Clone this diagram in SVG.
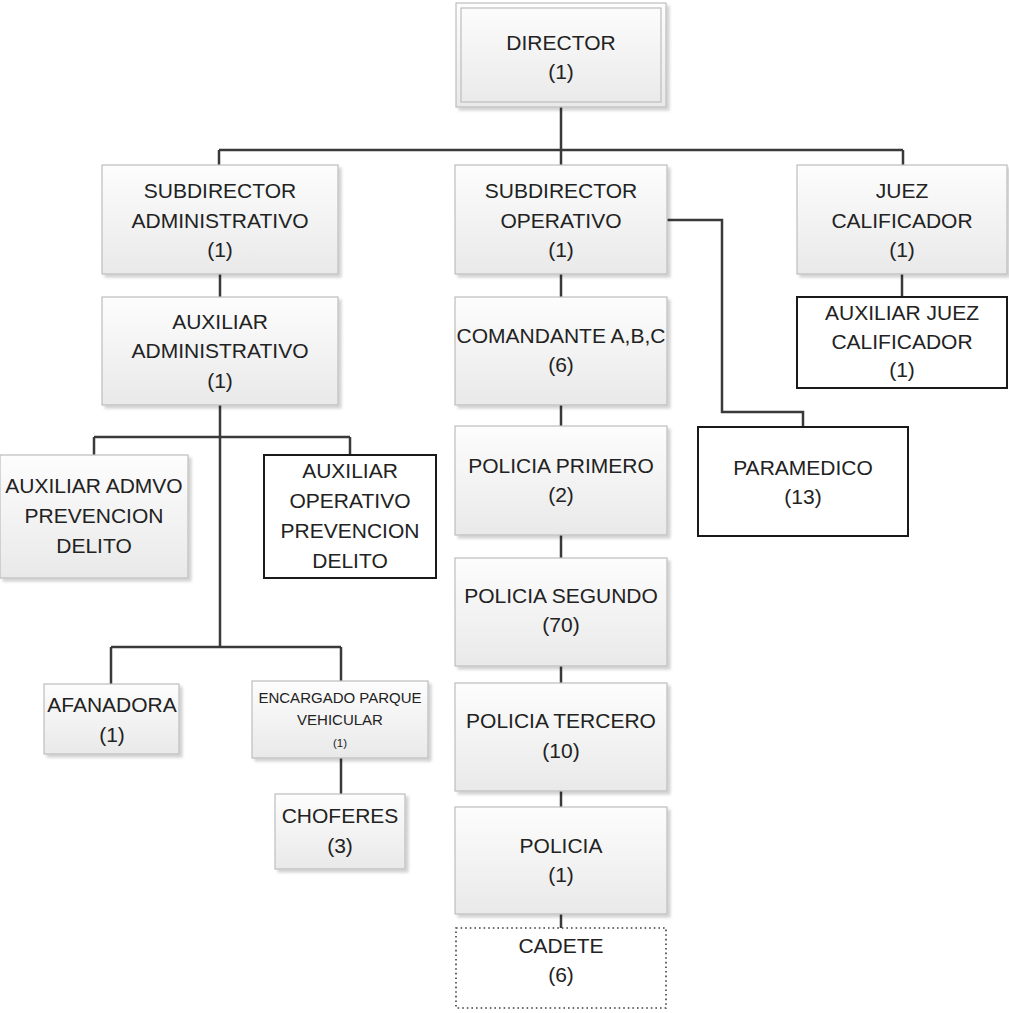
<svg xmlns="http://www.w3.org/2000/svg" width="1009" height="1013" viewBox="0 0 1009 1013">
<defs>
<linearGradient id="g" x1="0" y1="0" x2="0" y2="1">
<stop offset="0" stop-color="#fdfdfd"/>
<stop offset="1" stop-color="#e9e9e9"/>
</linearGradient>
<filter id="sh" x="-5%" y="-5%" width="115%" height="120%">
<feGaussianBlur in="SourceAlpha" stdDeviation="1.5"/>
<feOffset dx="3" dy="3" result="b"/>
<feComponentTransfer><feFuncA type="linear" slope="0.18"/></feComponentTransfer>
<feMerge><feMergeNode/><feMergeNode in="SourceGraphic"/></feMerge>
</filter>
</defs>
<style>
.box{fill:url(#g);stroke:#bdbdbd;stroke-width:1.2;filter:url(#sh)}
.blk{fill:#fff;stroke:#1a1a1a;stroke-width:2}
.dot{fill:#fff;stroke:#404040;stroke-width:1.6;stroke-dasharray:1.6 3}
.t{font-family:"Liberation Sans",Arial,sans-serif;font-size:21px;fill:#222;text-anchor:middle}
.s{font-size:15px}
.xs{font-size:11.5px}
.c{fill:none;stroke:#3a3a3a;stroke-width:2.5}
</style>
<g id="connectors">
<path class="c" d="M561,107V165M219,150H903M219,150V165M903,150V165"/>
<path class="c" d="M220,274V297M220,405V647M94,437H350M94,437V455M350,437V455"/>
<path class="c" d="M111,647H341M111,647V684M341,647V681M341,757V794"/>
<path class="c" d="M561,274V297M561,405V426M561,535V558M561,666V683M561,791V807M561,914V928"/>
<path class="c" d="M667,220H722V412H803V427"/>
<path class="c" d="M902,274V297"/>
</g>
<g id="director">
<rect x="456" y="3" width="210" height="104" class="box"/>
<rect x="461" y="8" width="200" height="94" fill="none" stroke="#bdbdbd" stroke-width="1.2"/>
<text class="t" x="561" y="50">DIRECTOR</text>
<text class="t" x="561" y="79">(1)</text>
</g>
<g id="subdirector-administrativo">
<rect x="102" y="165" width="236" height="109" class="box"/>
<text class="t" x="220" y="198">SUBDIRECTOR</text>
<text class="t" x="220" y="228">ADMINISTRATIVO</text>
<text class="t" x="220" y="257">(1)</text>
</g>
<g id="subdirector-operativo">
<rect x="455" y="165" width="212" height="109" class="box"/>
<text class="t" x="561" y="198">SUBDIRECTOR</text>
<text class="t" x="561" y="228">OPERATIVO</text>
<text class="t" x="561" y="257">(1)</text>
</g>
<g id="juez-calificador">
<rect x="797" y="165" width="210" height="109" class="box"/>
<text class="t" x="902" y="198">JUEZ</text>
<text class="t" x="902" y="228">CALIFICADOR</text>
<text class="t" x="902" y="257">(1)</text>
</g>
<g id="auxiliar-administrativo">
<rect x="102" y="297" width="236" height="108" class="box"/>
<text class="t" x="220" y="329">AUXILIAR</text>
<text class="t" x="220" y="358">ADMINISTRATIVO</text>
<text class="t" x="220" y="388">(1)</text>
</g>
<g id="comandante">
<rect x="455" y="297" width="212" height="108" class="box"/>
<text class="t" x="561" y="343">COMANDANTE A,B,C</text>
<text class="t" x="561" y="372">(6)</text>
</g>
<g id="auxiliar-juez-calificador">
<rect x="797" y="297" width="210" height="91" class="blk"/>
<text class="t" x="902" y="320">AUXILIAR JUEZ</text>
<text class="t" x="902" y="349">CALIFICADOR</text>
<text class="t" x="902" y="377">(1)</text>
</g>
<g id="auxiliar-admvo-prevencion">
<rect x="0" y="455" width="188" height="123" class="box"/>
<text class="t" x="94" y="493">AUXILIAR ADMVO</text>
<text class="t" x="94" y="523">PREVENCION</text>
<text class="t" x="94" y="553">DELITO</text>
</g>
<g id="auxiliar-operativo-prevencion">
<rect x="264" y="455" width="172" height="123" class="blk"/>
<text class="t" x="350" y="478">AUXILIAR</text>
<text class="t" x="350" y="508">OPERATIVO</text>
<text class="t" x="350" y="538">PREVENCION</text>
<text class="t" x="350" y="568">DELITO</text>
</g>
<g id="policia-primero">
<rect x="455" y="426" width="212" height="109" class="box"/>
<text class="t" x="561" y="473">POLICIA PRIMERO</text>
<text class="t" x="561" y="502">(2)</text>
</g>
<g id="paramedico">
<rect x="698" y="427" width="210" height="109" class="blk"/>
<text class="t" x="803" y="475">PARAMEDICO</text>
<text class="t" x="803" y="504">(13)</text>
</g>
<g id="policia-segundo">
<rect x="455" y="558" width="212" height="108" class="box"/>
<text class="t" x="561" y="603">POLICIA SEGUNDO</text>
<text class="t" x="561" y="632">(70)</text>
</g>
<g id="afanadora">
<rect x="44" y="684" width="135" height="70" class="box"/>
<text class="t" x="112" y="712">AFANADORA</text>
<text class="t" x="112" y="742">(1)</text>
</g>
<g id="encargado-parque-vehicular">
<rect x="252" y="681" width="176" height="77" class="box"/>
<text class="t s" x="340" y="703">ENCARGADO PARQUE</text>
<text class="t s" x="340" y="725">VEHICULAR</text>
<text class="t xs" x="340" y="747">(1)</text>
</g>
<g id="policia-tercero">
<rect x="455" y="683" width="212" height="108" class="box"/>
<text class="t" x="561" y="728">POLICIA TERCERO</text>
<text class="t" x="561" y="758">(10)</text>
</g>
<g id="choferes">
<rect x="275" y="794" width="130" height="75" class="box"/>
<text class="t" x="340" y="823">CHOFERES</text>
<text class="t" x="340" y="853">(3)</text>
</g>
<g id="policia">
<rect x="455" y="807" width="212" height="107" class="box"/>
<text class="t" x="561" y="853">POLICIA</text>
<text class="t" x="561" y="882">(1)</text>
</g>
<g id="cadete">
<rect x="456" y="928" width="210" height="80" class="dot"/>
<text class="t" x="561" y="953">CADETE</text>
<text class="t" x="561" y="982">(6)</text>
</g>
</svg>
